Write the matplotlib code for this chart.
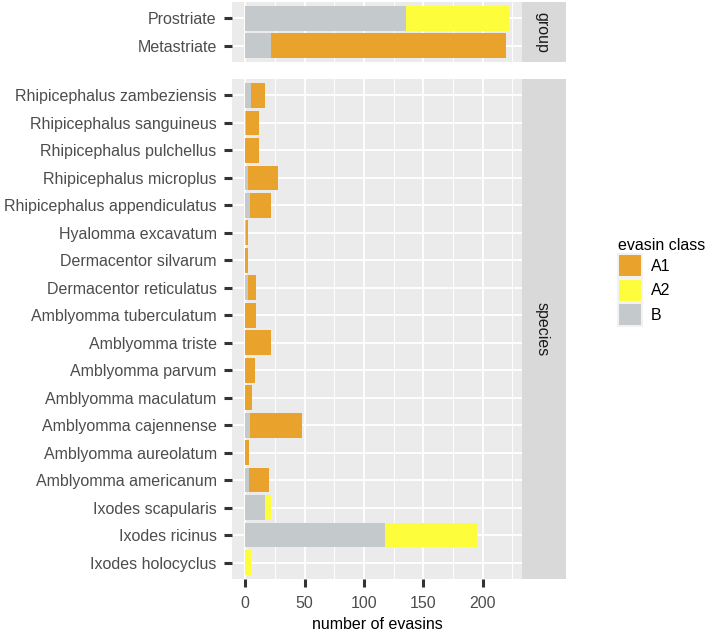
import numpy as np
import matplotlib.pyplot as plt
from matplotlib.patches import Patch
from matplotlib.ticker import MultipleLocator

plt.rcParams['font.family'] = ['Liberation Sans', 'DejaVu Sans']

# evasin counts per class, listed top -> bottom as drawn
groups = ["Prostriate", "Metastriate"]
group_B = [135, 22]
group_A2 = [87, 0]
group_A1 = [0, 198]

species = [
    "Rhipicephalus zambeziensis", "Rhipicephalus sanguineus",
    "Rhipicephalus pulchellus", "Rhipicephalus microplus",
    "Rhipicephalus appendiculatus", "Hyalomma excavatum",
    "Dermacentor silvarum", "Dermacentor reticulatus",
    "Amblyomma tuberculatum", "Amblyomma triste", "Amblyomma parvum",
    "Amblyomma maculatum", "Amblyomma cajennense", "Amblyomma aureolatum",
    "Amblyomma americanum", "Ixodes scapularis", "Ixodes ricinus",
    "Ixodes holocyclus",
]
species_B = [5, 1, 0, 2, 4, 1, 0, 2, 0, 0, 0, 0, 4, 0, 3, 17, 118, 0]
species_A2 = [0, 0, 0, 0, 0, 0, 0, 0, 0, 0, 0, 0, 0, 0, 0, 5, 77, 5]
species_A1 = [12, 11, 12, 26, 18, 1, 2, 7, 9, 22, 8, 6, 44, 3, 17, 0, 0, 0]

classes = ["A1", "A2", "B"]
colors = {"A1": "#E9A22B", "A2": "#FDFD3C", "B": "#C4CACC"}

W, H = 708, 634


def rect(x0, y0, x1, y1):
    return [x0 / W, 1 - y1 / H, (x1 - x0) / W, (y1 - y0) / H]


def draw_panel(ax, labels, b, a2, a1, show_x):
    n = len(labels)
    y = np.arange(n)[::-1]
    b = np.array(b)
    a2 = np.array(a2)
    a1 = np.array(a1)
    ax.barh(y, b, height=0.9, color=colors["B"], zorder=3)
    ax.barh(y, a2, left=b, height=0.9, color=colors["A2"], zorder=3)
    ax.barh(y, a1, left=b + a2, height=0.9, color=colors["A1"], zorder=3)
    ax.set_facecolor("#EBEBEB")
    ax.set_xlim(-11.1, 233.1)
    ax.set_ylim(-0.6, n - 0.4)
    ax.set_yticks(y)
    ax.set_yticklabels(labels)
    ax.xaxis.set_major_locator(MultipleLocator(50))
    ax.xaxis.set_minor_locator(MultipleLocator(25))
    ax.grid(which="major", color="white", linewidth=1.3, zorder=0)
    ax.grid(which="minor", axis="x", color="white", linewidth=0.65, zorder=0)
    for s in ax.spines.values():
        s.set_visible(False)
    ax.tick_params(axis="y", which="major", length=6, width=2.2,
                   color="#333333", labelcolor="#4D4D4D", labelsize=11.5, pad=5)
    ax.tick_params(axis="x", which="major", length=6, width=2.2,
                   color="#333333", labelcolor="#4D4D4D", labelsize=11.5, pad=6)
    ax.tick_params(which="minor", length=0)
    if not show_x:
        ax.tick_params(axis="x", which="both", bottom=False, labelbottom=False)


def draw_strip(box, text):
    sx = fig.add_axes(rect(*box))
    sx.set_facecolor("#D9D9D9")
    sx.set_xticks([])
    sx.set_yticks([])
    for s in sx.spines.values():
        s.set_visible(False)
    sx.text(0.45, 0.5, text, rotation=-90, ha="center", va="center",
            fontsize=11.5, color="#1A1A1A", transform=sx.transAxes)


fig = plt.figure(figsize=(W / 100, H / 100), dpi=100)

ax1 = fig.add_axes(rect(232, 2, 522, 62))
draw_panel(ax1, groups, group_B, group_A2, group_A1, False)
ax2 = fig.add_axes(rect(232, 79, 522, 579))
draw_panel(ax2, species, species_B, species_A2, species_A1, True)
ax2.set_xlabel("number of evasins", fontsize=11.5, color="black", labelpad=4.5)

draw_strip((522, 2, 566, 62), "group")
draw_strip((522, 79, 566, 579), "species")

handles = [Patch(facecolor=colors[c], edgecolor="#F2F2F2", linewidth=1.5) for c in classes]
leg = fig.legend(handles, classes, title="evasin class", loc="upper left",
                 bbox_to_anchor=(618 / W, 1 - 238 / H), frameon=False,
                 fontsize=11.5, title_fontsize=11.5, handlelength=1.5,
                 handleheight=1.85, labelspacing=0.08, handletextpad=0.55,
                 borderpad=0, borderaxespad=0)
leg._legend_box.align = "left"

fig.savefig("out.png", dpi=100)
